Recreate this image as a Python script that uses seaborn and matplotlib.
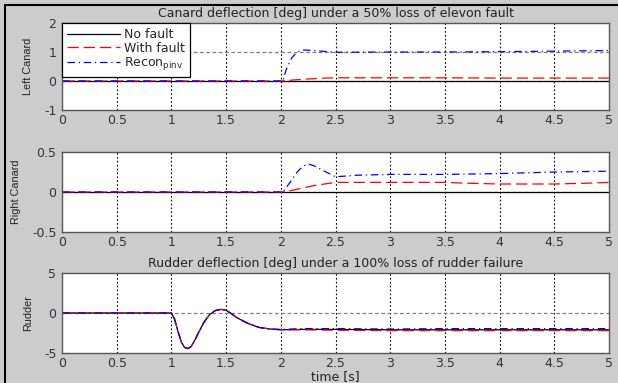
import matplotlib
matplotlib.use("Agg")
import matplotlib.pyplot as plt
from matplotlib.lines import Line2D
import seaborn as sns
import pandas as pd

sns.set_theme(style="white")
plt.rcParams["font.family"] = ["DejaVu Sans"]

# ---- Left canard deflection [deg] ----
lc_nofault_t = [0, 5]
lc_nofault_y = [0, 0]
lc_fault_t = [0, 2.0, 2.1, 2.2, 2.3, 2.4, 2.5, 3.0, 3.5, 4.0, 4.5, 5.0]
lc_fault_y = [0, 0, 0.03, 0.06, 0.08, 0.10, 0.11, 0.11, 0.11, 0.10, 0.10, 0.10]
lc_recon_t = [0, 2.02, 2.05, 2.1, 2.15, 2.2, 2.3, 2.4, 2.5, 3.0, 3.5, 4.0, 4.5, 5.0]
lc_recon_y = [0, 0, 0.40, 0.80, 1.00, 1.07, 1.05, 1.02, 0.99, 1.00, 1.00, 1.01, 1.03, 1.05]

# ---- Right canard deflection [deg] ----
rc_nofault_t = [0, 5]
rc_nofault_y = [0, 0]
rc_fault_t = [0, 2.0, 2.1, 2.2, 2.3, 2.4, 2.5, 3.0, 3.5, 3.7, 4.0, 4.5, 4.8, 5.0]
rc_fault_y = [0, 0, 0.02, 0.05, 0.08, 0.10, 0.12, 0.12, 0.12, 0.11, 0.10, 0.10, 0.11, 0.12]
rc_recon_t = [0, 2.02, 2.1, 2.15, 2.2, 2.25, 2.3, 2.4, 2.5, 2.7, 3.0, 3.5, 4.0, 4.5, 5.0]
rc_recon_y = [0, 0, 0.15, 0.25, 0.32, 0.35, 0.33, 0.26, 0.19, 0.21, 0.22, 0.22, 0.23, 0.25, 0.26]

# ---- Rudder deflection [deg] ----
rd_t = [0, 1.0, 1.03, 1.06, 1.09, 1.12, 1.15, 1.18, 1.21, 1.25, 1.30, 1.35,
        1.40, 1.45, 1.50, 1.55, 1.60, 1.70, 1.80, 1.90, 2.0, 2.2, 2.5, 3.0,
        3.5, 4.0, 4.5, 5.0]
rd_nofault_y = [0, 0, -0.8, -2.3, -3.6, -4.3, -4.45, -4.2, -3.5, -2.4, -1.1, -0.2,
                0.3, 0.45, 0.35, -0.1, -0.6, -1.3, -1.8, -2.0, -2.1, -2.05, -2.05, -2.1,
                -2.1, -2.1, -2.1, -2.1]
rd_fault_y = [0, 0, -0.8, -2.3, -3.6, -4.3, -4.45, -4.2, -3.5, -2.4, -1.1, -0.2,
              0.3, 0.45, 0.35, -0.1, -0.6, -1.3, -1.8, -2.0, -2.1, -2.1, -2.15, -2.2,
              -2.2, -2.2, -2.2, -2.2]
rd_recon_y = [0, 0, -0.8, -2.3, -3.6, -4.3, -4.45, -4.2, -3.5, -2.4, -1.1, -0.2,
              0.3, 0.45, 0.35, -0.1, -0.6, -1.3, -1.8, -2.0, -2.05, -1.95, -1.95, -2.0,
              -1.95, -1.95, -1.95, -1.95]

x_ticks = [0, 0.5, 1, 1.5, 2, 2.5, 3, 3.5, 4, 4.5, 5]
x_ticklabels = ["0", "0.5", "1", "1.5", "2", "2.5", "3", "3.5", "4", "4.5", "5"]

W, H = 618, 383
fig = plt.figure(figsize=(W / 100, H / 100), dpi=100)
fig.patch.set_facecolor("#cccccc")
fig.patch.set_edgecolor("none")
fig.patch.set_linewidth(0)


def px_axes(x0, y0, x1, y1):
    return fig.add_axes([x0 / W, 1 - y1 / H, (x1 - x0) / W, (y1 - y0) / H])


ax_top = px_axes(62, 23, 609, 110)
ax_mid = px_axes(62, 152, 609, 232)
ax_bot = px_axes(62, 273, 609, 353)

styles = [
    ("No fault", "black", "-", None),
    ("With fault", "red", "--", (9, 4)),
    ("Recon$_{\\mathrm{pinv}}$", "blue", "-.", (6, 3, 1, 3)),
]

TEXT = "#222222"


def draw(ax, series, ylim, yticks, yticklabels, ylabel):
    for (label, color, ls, dashes), (t, y) in zip(styles, series):
        df = pd.DataFrame({"t": t, "v": y})
        sns.lineplot(data=df, x="t", y="v", ax=ax, color=color,
                     linewidth=0.9, label=label, legend=False,
                     estimator=None, sort=False)
        ln = ax.lines[-1]
        if dashes is not None:
            ln.set_dashes(dashes)
    ax.set_xlim(0, 5)
    ax.set_ylim(*ylim)
    ax.set_xticks(x_ticks)
    ax.set_xticklabels(x_ticklabels)
    ax.set_yticks(yticks)
    ax.set_yticklabels(yticklabels)
    ax.set_facecolor("white")
    for xv in x_ticks[1:-1]:
        ax.axvline(xv, color="black", linestyle=(0, (1.5, 2)), linewidth=0.8, zorder=0)
    for yv in yticks[1:-1]:
        ax.axhline(yv, color="#808080", linestyle=(0, (3, 2)), linewidth=0.9, zorder=0)
    ax.set_xlabel("")
    ax.set_ylabel(ylabel, fontsize=7.8, color=TEXT, labelpad=8,
                  family=["Liberation Sans"])
    ax.tick_params(axis="both", labelsize=9, colors="#333333", direction="in",
                   length=2.5, width=0.6)
    ax.tick_params(axis="x", pad=3)
    ax.tick_params(axis="y", pad=4)
    for sp in ax.spines.values():
        sp.set_color("#555555")
        sp.set_linewidth(1.0)


draw(ax_top,
     [(lc_nofault_t, lc_nofault_y), (lc_fault_t, lc_fault_y), (lc_recon_t, lc_recon_y)],
     (-1, 2), [-1, 0, 1, 2], ["-1", "0", "1", "2"], "Left Canard")
draw(ax_mid,
     [(rc_nofault_t, rc_nofault_y), (rc_fault_t, rc_fault_y), (rc_recon_t, rc_recon_y)],
     (-0.5, 0.5), [-0.5, 0, 0.5], ["-0.5", "0", "0.5"], "Right Canard")
draw(ax_bot,
     [(rd_t, rd_nofault_y), (rd_t, rd_fault_y), (rd_t, rd_recon_y)],
     (-5, 5), [-5, 0, 5], ["-5", "0", "5"], "Rudder")

ax_top.set_title("Canard deflection [deg] under a 50% loss of elevon fault",
                 fontsize=9, color=TEXT, pad=4)
ax_bot.set_title("Rudder deflection [deg] under a 100% loss of rudder failure",
                 fontsize=9, color=TEXT, pad=4)
ax_bot.set_xlabel("time [s]", fontsize=9, color=TEXT, labelpad=0)

leg = ax_top.legend(loc="upper left", fontsize=9, frameon=True, fancybox=False,
                    borderaxespad=0.0, handlelength=4.2, labelspacing=0.05,
                    borderpad=0.4, handletextpad=0.4)
leg.get_frame().set_edgecolor("black")
leg.get_frame().set_linewidth(0.9)
leg.get_frame().set_alpha(1)

# figure frame along the top and left edges
fig.add_artist(Line2D([5 / W, 1], [1 - 5 / H, 1 - 5 / H], color="black",
                      linewidth=1.5, transform=fig.transFigure))
fig.add_artist(Line2D([5 / W, 5 / W], [0, 1 - 5 / H], color="black",
                      linewidth=1.5, transform=fig.transFigure))

fig.savefig("out.png", dpi=100, facecolor=fig.get_facecolor(), edgecolor="none")
